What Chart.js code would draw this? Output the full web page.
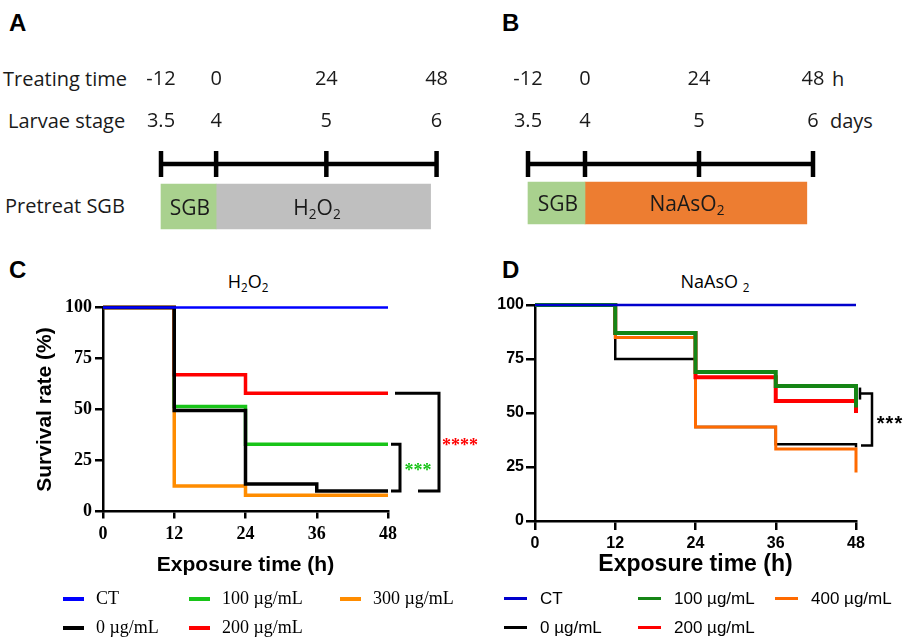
<!DOCTYPE html>
<html lang="en">
<head>
<meta charset="UTF-8">
<title>SGB pretreatment survival</title>
<script src="https://cdn.jsdelivr.net/npm/chart.js@4"></script>
<style>
  body { margin: 0; background: #fff; }
  #fig { position: relative; width: 909px; height: 637px; overflow: hidden; font-family: "Open Sans", sans-serif; color: #1a1a1a; }
  #fig canvas { position: absolute; }
  .t { position: absolute; white-space: nowrap; line-height: 1; transform: translateY(-50%); }
  .c { transform: translate(-50%, -50%); }
  .panel { font: bold 24px "Liberation Sans", Arial, sans-serif; color: #000; }
  .row { font-size: 20px; }
  .bar { font-size: 21px; }
  .ttl { font-size: 18px; color: #000; }
  sub { font-size: 0.65em; vertical-align: -0.3em; line-height: 0; }
  .legend { position: absolute; display: grid; grid-auto-flow: column; grid-template-rows: 29px 29px; align-items: center; color: #000; }
  .legend .item { display: flex; align-items: center; white-space: nowrap; }
  .legend .mark { display: inline-block; }
  #legC { left: 63px; top: 584px; grid-template-columns: 126px 151px auto; font: 18px "Liberation Serif", serif; }
  #legC .mark { width: 21px; height: 4px; margin-right: 12px; }
  #legD { left: 504px; top: 584px; grid-template-columns: 134px 137px auto; font: 17px "Liberation Sans", sans-serif; }
  #legD .mark { width: 23px; height: 3px; margin-right: 13px; }
</style>
</head>
<body>
<div id="fig">
  <div class="t panel" style="left:9px; top:23px">A</div>
  <div class="t panel" style="left:502px; top:23px">B</div>
  <div class="t panel" style="left:9px; top:270px">C</div>
  <div class="t panel" style="left:502px; top:270px">D</div>

  <div class="t row" style="left:3px; top:79px">Treating time</div>
  <div class="t row" style="left:8px; top:121px">Larvae stage</div>
  <div class="t row" style="left:5px; top:206px">Pretreat SGB</div>
  <div class="t row" style="left:832px; top:79px">h</div>
  <div class="t row" style="left:830px; top:121px">days</div>

  <canvas id="chartA" width="470" height="210" style="left:0; top:40px"></canvas>
  <canvas id="chartB" width="449" height="210" style="left:460px; top:40px"></canvas>

  <div class="t c bar" style="left:190px; top:207px">SGB</div>
  <div class="t c bar" style="left:317px; top:207px">H<sub>2</sub>O<sub>2</sub></div>
  <div class="t c bar" style="left:558px; top:203px">SGB</div>
  <div class="t c bar" style="left:687px; top:203px">NaAsO<sub>2</sub></div>

  <div class="t c ttl" style="left:248px; top:281px">H<sub>2</sub>O<sub>2</sub></div>
  <div class="t c ttl" style="left:715px; top:281px">NaAsO <sub>2</sub></div>

  <canvas id="chartC" width="490" height="295" style="left:0; top:290px"></canvas>
  <canvas id="chartD" width="439" height="295" style="left:470px; top:290px"></canvas>

  <div id="legC" class="legend"></div>
  <div id="legD" class="legend"></div>
</div>

<script>
    // panels A and B: treatment timeline
    const hourTicks = [-12, 0, 24, 48];
    const dayTicks = ['3.5', '4', '5', '6'];
    const sgbPeriod = [-12, 0];
    const h2o2Period = [0, 46.7];
    const naasPeriod = [0, 46.7];

    // panel C: H2O2 survival (%)
    const hoursC = [0, 12, 24, 36, 48];
    const groupsC = ['CT', '0 µg/mL', '100 µg/mL', '200 µg/mL', '300 µg/mL'];
    const ctC = [100, 100, 100, 100, 100];
    const zeroC = [100, 49.5, 13.5, 10, 10];
    const dose100C = [100, 51.5, 33, 33, 33];
    const dose200C = [100, 67, 58, 58, 58];
    const dose300C = [100, 12.5, 8, 8, 8];
    const sigC = [
        { top: 58, bottom: 10, stars: '****', color: '#ff0000' },
        { top: 33, bottom: 10, stars: '***', color: '#18c418' }
    ];

    // panel D: NaAsO2 survival (%)
    const hoursD = [0, 12, 24, 36, 48];
    const groupsD = ['CT', '0 µg/mL', '100 µg/mL', '200 µg/mL', '400 µg/mL'];
    const ctD = [100, 100, 100, 100, 100];
    const zeroD = [100, 75, 43.5, 35.5, 34];
    const dose100D = [100, 87, 69, 62.5, 52.5];
    const dose200D = [100, 87, 66.5, 55.5, 50];
    const dose400D = [100, 85, 43.5, 33.3, 22.5];
    const sigD = [{ top: 59, bottom: 35, stars: '***', color: '#000000' }];

    const survivalTicks = [0, 25, 50, 75, 100];

    const colorsC = ['#0000ff', '#000000', '#18c418', '#ff0000', '#ff8c00'];
    const colorsD = ['#0000cc', '#000000', '#158515', '#ff0000', '#ff6a00'];

    function drawTimeline(id, period, color, pad, thickness) {
        new Chart(document.getElementById(id), {
            type: 'bar',
            data: {
                labels: ['time', 'treat'],
                datasets: [
                    {
                        type: 'line',
                        data: hourTicks.map(h => ({ x: h, y: 'time' })),
                        borderColor: '#000', borderWidth: 4.5,
                        pointStyle: 'line', pointRotation: 90, pointRadius: 13,
                        pointBorderWidth: 4.5, pointBorderColor: '#000', clip: false
                    },
                    { data: [null, sgbPeriod], backgroundColor: '#a9d18e', barThickness: thickness, grouped: false, clip: false },
                    { data: [null, period], backgroundColor: color, barThickness: thickness, grouped: false, clip: false }
                ]
            },
            options: {
                indexAxis: 'y',
                responsive: false,
                animation: false,
                devicePixelRatio: 1,
                layout: { padding: pad },
                plugins: { legend: { display: false }, tooltip: { enabled: false } },
                scales: {
                    x: {
                        type: 'linear', position: 'top', min: -12, max: 48,
                        afterBuildTicks: s => { s.ticks = hourTicks.map(v => ({ value: v })); },
                        afterFit: s => { s.height = 124; },
                        grid: { display: false, drawTicks: false },
                        border: { display: false },
                        ticks: {
                            padding: 22, color: '#1a1a1a', autoSkip: false, maxRotation: 0,
                            font: { family: 'Open Sans', size: 20, lineHeight: 2.1 },
                            callback: v => [String(v), dayTicks[hourTicks.indexOf(v)]]
                        }
                    },
                    y: { type: 'category', offset: false, display: false }
                }
            }
        });
    }

    drawTimeline('chartA', h2o2Period, '#bfbfbf', { left: 161, right: 27, top: 0, bottom: 43.5 }, 45);
    drawTimeline('chartB', naasPeriod, '#ed7d31', { left: 68, right: 96, top: 0, bottom: 47 }, 42);

    // significance brackets to the right of the plot
    const bracketPlugin = {
        id: 'brackets',
        afterDatasetsDraw(chart, args, opts) {
            const { ctx, chartArea, scales } = chart;
            const r = chartArea.right;
            ctx.save();
            opts.items.forEach((b, i) => {
                const s = opts.shape[i];
                const yt = scales.y.getPixelForValue(b.top);
                const yb = scales.y.getPixelForValue(b.bottom);
                ctx.strokeStyle = '#000';
                ctx.lineWidth = opts.lineWidth;
                ctx.lineJoin = 'miter';
                ctx.beginPath();
                ctx.moveTo(r + s.topStart, yt);
                ctx.lineTo(r + s.outer, yt);
                ctx.lineTo(r + s.outer, yb);
                ctx.lineTo(r + s.bottomStart, yb);
                ctx.stroke();
                if (s.cap) {
                    ctx.beginPath();
                    ctx.moveTo(r + s.topStart, yt - 6);
                    ctx.lineTo(r + s.topStart, yt + 6);
                    ctx.stroke();
                }
                ctx.fillStyle = b.color;
                ctx.font = opts.font;
                ctx.letterSpacing = opts.spacing;
                ctx.textAlign = 'center';
                ctx.textBaseline = 'middle';
                ctx.fillText(b.stars, r + s.textX, (yt + yb) / 2 + opts.textDy);
            });
            ctx.restore();
        }
    };

    function series(hours, values, label, color, width, order) {
        return {
            label: label,
            data: hours.map((h, i) => ({ x: h, y: values[i] })),
            borderColor: color,
            backgroundColor: color,
            borderWidth: width,
            stepped: true,
            pointRadius: 0,
            fill: false,
            clip: false,
            order: order,
            borderJoinStyle: 'miter'
        };
    }

    function axisStyle(tickFont, tickLength, padding, ticks) {
        return {
            afterBuildTicks: s => { s.ticks = ticks.map(v => ({ value: v })); },
            grid: { drawOnChartArea: false, color: '#000', lineWidth: 2.5, tickLength: tickLength },
            border: { color: '#000', width: 2.5 },
            ticks: { font: tickFont, color: '#000', padding: padding, maxRotation: 0, autoSkip: false }
        };
    }

    const serifTick = { family: 'Liberation Serif', weight: 'bold', size: 18 };
    new Chart(document.getElementById('chartC'), {
        type: 'line',
        data: {
            datasets: [
                series(hoursC, ctC, groupsC[0], colorsC[0], 2.5, 0),
                series(hoursC, zeroC, groupsC[1], colorsC[1], 3.5, 1),
                series(hoursC, dose100C, groupsC[2], colorsC[2], 3.5, 3),
                series(hoursC, dose200C, groupsC[3], colorsC[3], 3.5, 2),
                series(hoursC, dose300C, groupsC[4], colorsC[4], 3.5, 4)
            ]
        },
        options: {
            responsive: false,
            animation: false,
            devicePixelRatio: 1,
            layout: { padding: { left: 0, right: 102, top: 17.5, bottom: 0 } },
            plugins: {
                legend: { display: false },
                tooltip: { enabled: false },
                brackets: {
                    items: sigC,
                    lineWidth: 3,
                    font: 'bold 18px "Liberation Serif"',
                    spacing: '0px',
                    textDy: 4,
                    shape: [
                        { topStart: 7, bottomStart: 30, outer: 51, textX: 72 },
                        { topStart: 3, bottomStart: 3, outer: 12, textX: 30 }
                    ]
                }
            },
            scales: {
                x: {
                    type: 'linear', min: 0, max: 48,
                    afterFit: s => { s.height = 73.5; },
                    ...axisStyle(serifTick, 7, 5, hoursC),
                    title: {
                        display: true, text: 'Exposure time (h)', color: '#000',
                        font: { family: 'Liberation Sans', weight: 'bold', size: 21 },
                        padding: { top: 0, bottom: 7 }
                    }
                },
                y: {
                    min: 0, max: 100,
                    afterFit: s => { s.width = 103; },
                    ...axisStyle(serifTick, 8, 3, survivalTicks),
                    title: {
                        display: true, text: 'Survival rate (%)', color: '#000',
                        font: { family: 'Liberation Sans', weight: 'bold', size: 21 },
                        padding: { top: 33, bottom: 0 }
                    }
                }
            }
        },
        plugins: [bracketPlugin]
    });

    const sansTick = { family: 'Liberation Sans', weight: 'bold', size: 16 };
    new Chart(document.getElementById('chartD'), {
        type: 'line',
        data: {
            datasets: [
                series(hoursD, ctD, groupsD[0], colorsD[0], 2.5, 0),
                series(hoursD, zeroD, groupsD[1], colorsD[1], 2.5, 4),
                series(hoursD, dose100D, groupsD[2], colorsD[2], 4, 1),
                series(hoursD, dose200D, groupsD[3], colorsD[3], 4, 2),
                series(hoursD, dose400D, groupsD[4], colorsD[4], 3, 3)
            ]
        },
        options: {
            responsive: false,
            animation: false,
            devicePixelRatio: 1,
            layout: { padding: { left: 0, right: 53, top: 15, bottom: 0 } },
            plugins: {
                legend: { display: false },
                tooltip: { enabled: false },
                brackets: {
                    items: sigD,
                    lineWidth: 2.5,
                    font: 'bold 20px "Liberation Sans"',
                    spacing: '1px',
                    textDy: 5,
                    shape: [{ topStart: 4, bottomStart: 5, outer: 16, textX: 34, cap: true }]
                }
            },
            scales: {
                x: {
                    type: 'linear', min: 0, max: 48,
                    afterFit: s => { s.height = 64; },
                    ...axisStyle(sansTick, 9, 3.5, hoursD),
                    title: {
                        display: true, text: 'Exposure time (h)', color: '#000',
                        font: { family: 'Liberation Sans', weight: 'bold', size: 23 },
                        padding: { top: 0, bottom: 6.5 }
                    }
                },
                y: {
                    min: 0, max: 100,
                    afterFit: s => { s.width = 65; },
                    ...axisStyle(sansTick, 9, 2, survivalTicks)
                }
            }
        },
        plugins: [bracketPlugin]
    });

    function buildLegend(id, labels, colors) {
        const el = document.getElementById(id);
        labels.forEach((name, i) => {
            const item = document.createElement('div');
            item.className = 'item';
            item.innerHTML = '<span class="mark" style="background:' + colors[i] + '"></span>' + name;
            el.appendChild(item);
        });
    }
    buildLegend('legC', groupsC, colorsC);
    buildLegend('legD', groupsD, colorsD);
</script>
</body>
</html>
